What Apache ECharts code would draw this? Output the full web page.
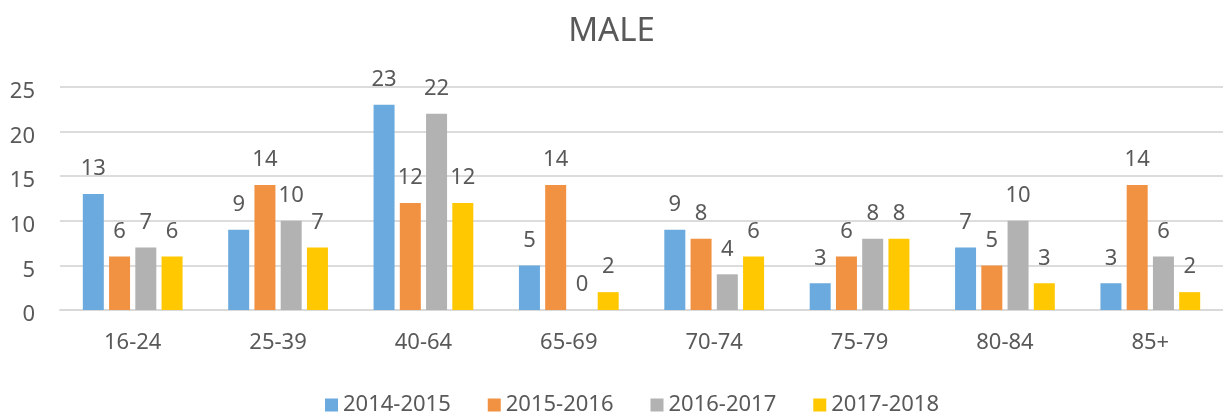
<!DOCTYPE html>
<html>
<head>
<meta charset="utf-8">
<title>MALE</title>
<script src="https://cdn.jsdelivr.net/npm/echarts@6/dist/echarts.min.js"></script>
<style>
  html, body { margin: 0; padding: 0; background: #fff; }
  #chart { width: 1223px; height: 417px; }
</style>
</head>
<body>
<div id="chart"></div>
<script>
  // age groups on the x axis
  var ageGroups = ['16-24', '25-39', '40-64', '65-69', '70-74', '75-79', '80-84', '85+'];
  var seriesNames = ['2014-2015', '2015-2016', '2016-2017', '2017-2018'];
  var y2014 = [13, 9, 23, 5, 9, 3, 7, 3];
  var y2015 = [6, 14, 12, 14, 8, 6, 5, 14];
  var y2016 = [7, 10, 22, 0, 4, 8, 10, 6];
  var y2017 = [6, 7, 12, 2, 6, 8, 3, 2];
  var yTicks = [0, 5, 10, 15, 20, 25];

  var colors = ['#6AAADE', '#F19142', '#B2B2B2', '#FFC800'];
  var txt = '#595959';
  var font = 'Noto Sans';

  function bar(name, data){
    return {
      name: name,
      type: 'bar',
      data: data,
      barWidth: 21,
      barGap: '25%',
      label: {
        show: true,
        position: 'top',
        distance: 14,
        color: txt,
        fontSize: 22,
        fontFamily: font
      }
    }
  }

  var myChart = echarts.init(document.getElementById('chart'));
  myChart.setOption({
    animation: false,
    color: colors,
    title: {
      text: 'MALE',
      left: 'center',
      top: 10,
      textStyle: { color: txt, fontSize: 33, fontWeight: 'normal', fontFamily: font }
    },
    legend: {
      data: seriesNames,
      bottom: -4,
      left: 320,
      itemWidth: 13,
      itemHeight: 13,
      itemGap: 37,
      icon: 'rect',
      textStyle: { color: txt, fontSize: 22, fontFamily: font }
    },
    grid: { left: 60, right: 0, top: 87, bottom: 107 },
    xAxis: {
      type: 'category',
      data: ageGroups,
      axisTick: { show: false },
      axisLine: { lineStyle: { color: '#D9D9D9', width: 2 } },
      axisLabel: { color: txt, fontSize: 22, fontFamily: font, margin: 22 }
    },
    yAxis: {
      type: 'value',
      min: yTicks[0],
      max: yTicks[yTicks.length - 1],
      interval: 5,
      axisLine: { show: false },
      axisTick: { show: false },
      splitLine: { lineStyle: { color: '#DCDCDC', width: 2 } },
      axisLabel: {
        margin: 25,
        formatter: '{v|{value}}',
        rich: {
          // labels sit a little below their gridlines in the original
          v: { color: txt, fontSize: 22, fontFamily: font, padding: [10, 0, 0, 0] }
        }
      }
    },
    series: [
      bar(seriesNames[0], y2014),
      bar(seriesNames[1], y2015),
      bar(seriesNames[2], y2016),
      bar(seriesNames[3], y2017)
    ]
  });
</script>
</body>
</html>
